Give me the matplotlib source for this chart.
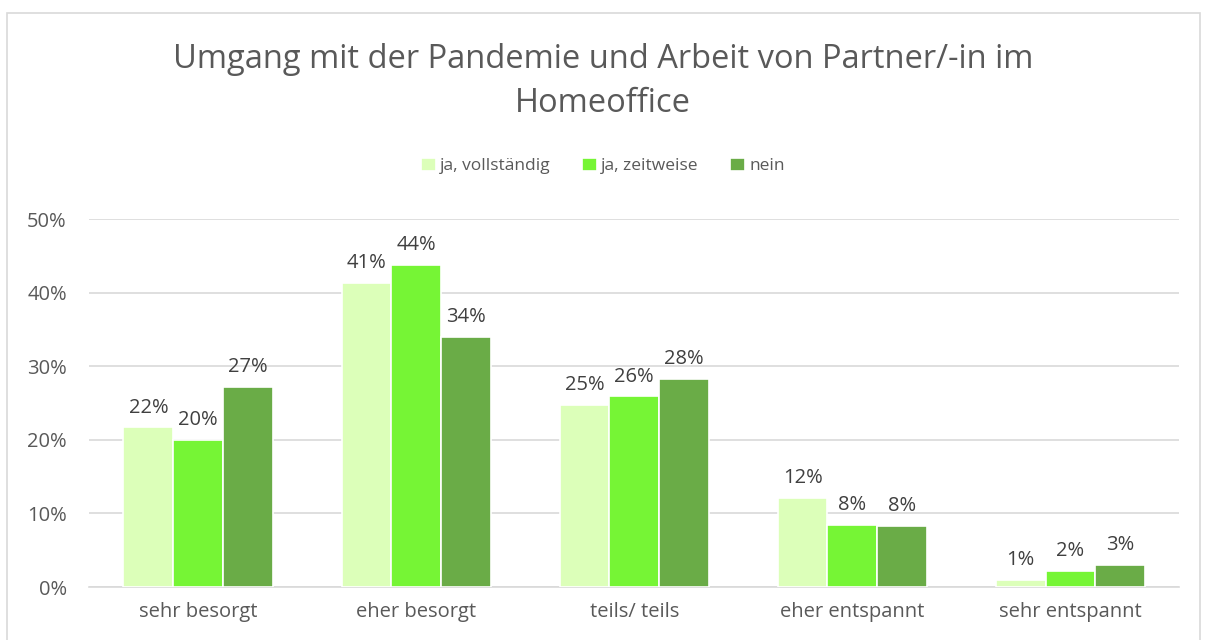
import matplotlib.pyplot as plt
import matplotlib.patches as mpatches
import numpy as np

categories = ['sehr besorgt', 'eher besorgt', 'teils/ teils', 'eher entspannt', 'sehr entspannt']
series_names = ['ja, vollständig', 'ja, zeitweise', 'nein']
vollstaendig = [21.7, 41.3, 24.7, 12.1, 0.95]
zeitweise = [20.0, 43.8, 25.9, 8.45, 2.2]
nein = [27.2, 34.0, 28.3, 8.3, 3.0]
colors = ['#DCFFB9', '#76F535', '#6AAC47']

text_color = '#595959'
plt.rcParams['font.family'] = ['Open Sans', 'DejaVu Sans']

fig = plt.figure(figsize=(12.06, 6.4), dpi=100)
ax = fig.add_axes([0.0738, 0.0828, 0.9042, 0.5750])

x = np.arange(len(categories))
bar_width = 0.228
for i, (vals, name) in enumerate(zip([vollstaendig, zeitweise, nein], series_names)):
    pos = x + (i - 1) * bar_width
    ax.bar(pos, vals, width=bar_width, color=colors[i], edgecolor='white',
           linewidth=1.2, label=name, zorder=3)
    for px, v in zip(pos, vals):
        ax.annotate(f'{round(v):.0f}%', (px, v), xytext=(0, 7), textcoords='offset points',
                    ha='center', va='bottom', fontsize=14.5, color='#404040')

ax.set_xlim(-0.5, len(categories) - 0.5)
ax.set_ylim(0, 50)
ax.set_yticks(np.arange(0, 51, 10))
ax.set_yticklabels([f'{t}%' for t in range(0, 51, 10)])
ax.set_xticks(x)
ax.set_xticklabels(categories)
ax.tick_params(axis='both', length=0, labelsize=14.5, labelcolor=text_color)
ax.tick_params(axis='x', pad=11)
ax.tick_params(axis='y', pad=16)
ax.grid(axis='y', color='#D9D9D9', linewidth=1.2, zorder=0)
for s in ['top', 'right', 'left']:
    ax.spines[s].set_visible(False)
ax.spines['bottom'].set_color('#D9D9D9')
ax.spines['bottom'].set_linewidth(1.2)

fig.text(0.5, 1 - 59 / 640, 'Umgang mit der Pandemie und Arbeit von Partner/-in im',
         ha='center', va='center', fontsize=23.5, color=text_color)
fig.text(0.5, 1 - 104 / 640, 'Homeoffice', ha='center', va='center', fontsize=23.5, color=text_color)

fig.legend(loc='center', bbox_to_anchor=(0.5, 1 - 166 / 640), ncol=3, frameon=False,
           fontsize=12.5, labelcolor=text_color, handlelength=0.85, handleheight=0.85,
           handletextpad=0.25, columnspacing=1.8)

# chart border
fig.patches.append(mpatches.Rectangle((7 / 1206, -0.01), 1193 / 1206, 1 - 13 / 640 + 0.01,
                                      transform=fig.transFigure, fill=False,
                                      edgecolor='#D9D9D9', linewidth=1.2))

fig.savefig('out.png', dpi=100)
